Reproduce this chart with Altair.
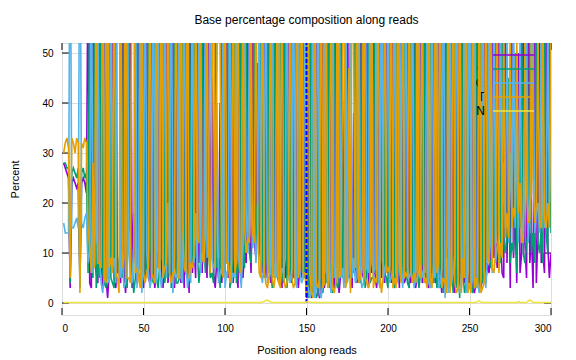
import altair as alt
import pandas as pd

# ---------------- data ----------------
positions = list(range(1, 301))

A = [28,27,26,25,3,24,25,24,23,24,5,24,25,24,22,70,4,3,60,8,
     6,4,78,9,3,85,5,1,7,10,
     82,5,3,9,6,4,78,7,2,11,
     15,84,3,18,9,4,81,7,5,3,
     9,76,5,4,83,6,3,10,7,79,
     6,3,10,80,4,8,5,86,3,9,
     85,7,4,9,3,79,8,2,81,6,
     12,5,70,8,20,6,72,10,5,65,
     7,45,6,3,9,5,40,4,10,6,
     78,5,9,83,4,10,6,3,80,7,
     5,10,8,60,14,6,55,12,9,48,
     12,8,6,78,5,9,82,4,7,6,
     80,6,4,9,3,83,5,7,79,8,
     4,7,84,6,3,8,5,80,9,1,
     2,85,1,3,2,80,3,1,2,78,
     3,6,5,82,4,7,3,79,6,2,
     6,48,4,9,83,5,7,3,38,8,
     4,8,82,6,5,7,80,3,9,6,
     84,6,3,7,81,5,8,4,79,6,
     7,4,83,6,5,8,3,80,6,4,
     5,81,6,4,7,85,3,6,8,79,
     4,6,82,5,3,7,6,80,4,5,
     86,6,2,9,88,4,11,3,84,7,
     2,9,87,5,3,84,4,12,3,6,
     85,3,2,4,80,6,3,5,78,4,
     8,6,10,75,9,12,7,70,14,6,
     5,62,8,30,3,55,9,18,4,50,
     6,10,65,12,5,58,8,14,3,62,
     4,14,60,8,10,6,55,12,5,10]

C = [28,28,27,27,4,26,27,26,25,27,3,26,27,25,26,6,75,8,5,65,
     3,8,5,80,6,4,3,9,82,5,
     4,3,86,6,8,12,5,80,6,3,
     77,5,8,2,5,86,6,4,9,80,
     5,8,82,17,6,4,87,5,3,8,
     9,85,4,7,5,80,3,6,84,4,
     4,5,8,81,10,6,5,87,7,9,
     70,9,10,4,8,75,12,6,22,10,
     5,6,4,82,7,9,3,83,5,8,
     8,80,3,5,9,79,4,8,6,84,
     9,7,62,15,10,8,18,58,12,20,
     10,79,9,5,8,83,6,7,3,85,
     5,7,9,84,6,4,81,3,7,5,
     82,5,6,4,9,79,6,7,5,88,
     1,3,88,2,4,1,2,86,3,2,
     5,4,81,3,8,2,86,5,3,4,
     81,5,7,4,6,42,3,8,6,79,
     7,5,4,83,9,3,6,85,4,5,
     5,80,6,4,7,9,82,6,5,3,
     80,6,5,3,84,7,6,5,4,82,
     7,4,3,80,5,4,86,7,3,6,
     8,81,4,7,6,83,5,4,9,3,
     5,3,90,2,8,85,3,10,6,2,
     88,3,7,1,90,6,2,4,86,3,
     4,2,5,82,7,3,84,4,6,5,
     70,9,7,10,12,68,15,9,8,72,
     12,10,14,45,8,12,10,50,6,20,
     15,60,10,8,12,14,55,10,14,8,
     58,12,10,15,8,62,14,10,60,14]

G = [16,14,14,14,88,15,15,16,17,15,90,16,15,17,18,8,10,82,6,20,
     12,80,9,4,2,6,88,5,4,76,
     7,9,4,79,83,5,10,3,4,81,
     10,6,4,12,80,3,8,85,2,11,
     81,10,6,3,5,85,6,4,83,6,
     3,7,79,5,20,6,88,2,7,5,
     6,83,5,4,80,9,3,6,4,78,
     8,18,7,76,6,10,8,70,9,15,
     82,9,7,8,40,4,6,7,80,3,
     6,7,84,4,6,5,82,10,7,3,
     12,66,18,10,62,20,11,16,8,14,
     70,6,4,9,81,4,5,6,84,5,
     8,5,82,4,7,6,9,85,6,4,
     7,84,5,3,82,6,4,5,79,4,
     3,1,4,90,1,3,84,2,1,4,
     80,7,4,6,2,84,5,7,4,83,
     5,7,3,82,4,6,86,5,9,4,
     5,81,6,3,4,84,7,6,80,8,
     6,7,85,5,3,83,4,7,8,82,
     4,5,7,84,6,4,82,9,3,7,
     79,7,5,6,82,3,5,4,80,8,
     5,7,6,83,4,3,84,6,5,82,
     3,4,7,92,1,9,2,89,4,6,
     10,90,4,2,6,5,91,2,8,89,
     3,5,86,3,4,2,5,83,7,3,
     10,72,12,6,70,8,11,13,65,10,
     28,15,60,12,30,18,62,15,35,12,
     55,18,12,25,60,12,20,22,58,14,
     18,20,14,62,22,15,16,58,20,32]

T = [30,32,33,31,5,33,32,30,33,32,2,32,31,33,32,15,11,6,28,7,
     79,8,8,7,89,5,4,84,7,9,
     6,83,6,5,2,79,7,9,88,5,
     5,4,85,80,6,7,5,3,84,6,
     4,6,7,84,6,5,4,81,7,7,
     82,5,7,8,83,6,4,6,6,82,
     5,5,83,16,7,6,84,5,8,7,
     10,68,13,12,66,9,8,14,64,10,
     6,40,83,7,44,82,51,6,5,83,
     8,8,4,8,81,6,8,79,7,6,
     70,15,10,13,12,64,14,12,68,16,
     6,5,80,7,4,3,5,82,5,3,
     6,81,4,3,82,5,3,4,6,80,
     5,3,4,85,5,7,83,6,6,2,
     90,6,2,1,89,4,3,5,88,3,
     4,78,3,5,80,3,2,4,83,5,
     6,40,84,3,5,47,2,81,47,7,
     83,4,5,7,80,5,4,3,5,79,
     3,5,4,82,6,2,5,80,6,7,
     6,82,3,5,3,79,7,4,85,5,
     6,5,84,7,4,6,4,81,6,5,
     80,4,5,3,85,5,3,8,80,6,
     8,90,3,5,4,2,93,2,5,92,
     4,2,3,91,2,9,5,88,2,4,
     2,86,3,5,3,84,2,3,4,82,
     9,8,68,7,6,10,64,6,12,9,
     55,13,18,13,59,15,19,17,55,18,
     24,12,13,55,23,16,17,54,25,16,
     20,54,16,15,60,17,15,20,15,54]

N = [0.1,0.1,0.1,0.1,0.1,0.1,0.1,0.1,0.1,0.1,0.1,0.1,0.1,0.1,0.1,0.1,0.1,0.1,0.1,0.1,0.1,0.1,0.1,0.1,0.1,0.1,0.1,0.1,0.1,0.1,
     0.1,0.1,0.1,0.1,0.1,0.1,0.1,0.1,0.1,0.1,0.1,0.1,0.1,0.1,0.1,0.1,0.1,0.1,0.1,0.1,0.1,0.1,0.1,0.1,0.1,0.1,0.1,0.1,0.1,0.1,
     0.1,0.1,0.1,0.1,0.1,0.1,0.1,0.1,0.1,0.1,0.1,0.1,0.1,0.1,0.1,0.1,0.1,0.1,0.1,0.1,0.1,0.1,0.1,0.1,0.1,0.1,0.1,0.1,0.1,0.1,
     0.1,0.1,0.1,0.1,0.1,0.1,0.1,0.1,0.1,0.1,0.1,0.1,0.1,0.1,0.1,0.1,0.1,0.1,0.1,0.1,0.1,0.1,0.1,0.1,0.1,0.1,0.1,0.1,0.1,0.1,
     0.1,0.1,0.2,0.3,0.5,0.6,0.4,0.2,0.1,0.1,0.1,0.1,0.1,0.1,0.1,0.1,0.1,0.1,0.1,0.1,0.1,0.1,0.1,0.1,0.1,0.1,0.1,0.1,0.1,0.2,
     0.3,0.2,0.1,0.1,0.1,0.1,0.1,0.1,0.1,0.1,0.1,0.1,0.1,0.1,0.1,0.1,0.1,0.1,0.1,0.1,0.1,0.1,0.1,0.1,0.1,0.1,0.1,0.1,0.1,0.1,
     0.1,0.1,0.1,0.1,0.1,0.1,0.1,0.1,0.1,0.1,0.1,0.1,0.1,0.1,0.1,0.1,0.1,0.1,0.1,0.1,0.1,0.1,0.1,0.1,0.1,0.1,0.1,0.1,0.1,0.1,
     0.1,0.1,0.1,0.1,0.1,0.1,0.1,0.1,0.1,0.1,0.1,0.1,0.1,0.1,0.1,0.1,0.1,0.1,0.1,0.1,0.1,0.1,0.1,0.1,0.1,0.1,0.1,0.1,0.1,0.1,
     0.1,0.1,0.1,0.1,0.1,0.1,0.1,0.1,0.1,0.1,0.1,0.1,0.1,0.1,0.3,0.4,0.2,0.1,0.1,0.1,0.1,0.1,0.1,0.1,0.1,0.1,0.1,0.1,0.1,0.1,
     0.1,0.1,0.1,0.1,0.1,0.1,0.1,0.1,0.1,0.3,0.1,0.1,0.1,0.1,0.1,0.4,0.6,0.4,0.1,0.1,0.1,0.1,0.1,0.1,0.1,0.1,0.1,0.1,0.1,0.1]

series_names = ["A", "C", "G", "T", "N"]
series_values = [A, C, G, T, N]
series_colors = ["#9400d3", "#009e73", "#56b4e9", "#e69f00", "#f0e442"]
boundary_position = [150]
y_ticks = [0, 10, 20, 30, 40, 50]
x_ticks = [0, 50, 100, 150, 200, 250, 300]
chart_title = "Base percentage composition along reads"

for v in series_values:
    assert len(v) == len(positions), len(v)

# ---------------- layout ----------------
W, H = 489, 272
FONT = "Liberation Sans"
LW = 1.6

xscale = alt.Scale(domain=[0, 300], nice=False, zero=False)
yscale = alt.Scale(domain=[-2.4, 52], nice=False, zero=False)

xaxis = alt.Axis(values=x_ticks, title="Position along reads", grid=True, ticks=False,
                 domain=False, labelPadding=8, titlePadding=11, format="d",
                 titleFontWeight="normal")
yaxis = alt.Axis(values=y_ticks, title="Percent", grid=True, ticks=False,
                 domain=False, labelPadding=9, titlePadding=21, format="d",
                 titleFontWeight="normal")


def X(field):
    return alt.X(field, type="quantitative", scale=xscale, axis=xaxis)


def Y(field):
    return alt.Y(field, type="quantitative", scale=yscale, axis=yaxis)


layers = []

# inward tick marks (gnuplot style, mirrored)
ytick_df = pd.DataFrame({"v": y_ticks})
xtick_df = pd.DataFrame({"p": x_ticks})
layers.append(alt.Chart(ytick_df).mark_rule(color="#000", strokeWidth=1).encode(
    y=Y("v"), x=alt.value(0), x2=alt.value(7)))
layers.append(alt.Chart(ytick_df).mark_rule(color="#000", strokeWidth=1).encode(
    y=Y("v"), x=alt.value(W - 7), x2=alt.value(W)))
layers.append(alt.Chart(xtick_df).mark_rule(color="#000", strokeWidth=1).encode(
    x=X("p"), y=alt.value(H - 7), y2=alt.value(H)))
layers.append(alt.Chart(xtick_df).mark_rule(color="#000", strokeWidth=1).encode(
    x=X("p"), y=alt.value(0), y2=alt.value(7)))

legend_rules = []
for i, (name, vals, col) in enumerate(zip(series_names, series_values, series_colors)):
    ly = 12 + 14 * i
    ldf = pd.DataFrame({"name": [name]})
    layers.append(alt.Chart(ldf).mark_text(align="right", baseline="middle", font=FONT,
                                           fontSize=12, color="#000").encode(
        text="name:N", x=alt.value(423), y=alt.value(ly)))
    legend_rules.append(alt.Chart(ldf).mark_rule(color=col, strokeWidth=LW).encode(
        x=alt.value(431), x2=alt.value(472), y=alt.value(ly)))
    df = pd.DataFrame({"pos": positions, "value": vals})
    layers.append(alt.Chart(df).mark_line(color=col, strokeWidth=LW, clip=True).encode(
        x=X("pos"), y=Y("value")))
    if name == "T":
        bdf = pd.DataFrame({"pos": boundary_position, "lo": [0], "hi": [100]})
        layers.append(alt.Chart(bdf).mark_rule(color="#0000ff", strokeWidth=2,
                                               strokeDash=[4, 2], clip=True).encode(
            x=X("pos"), y=Y("lo"), y2="hi"))

layers.extend(legend_rules)

tdf = pd.DataFrame({"t": [chart_title]})
layers.append(alt.Chart(tdf).mark_text(align="center", baseline="middle", font=FONT,
                                       fontSize=12, color="#000").encode(
    text="t:N", x=alt.value(W / 2), y=alt.value(-23)))

chart = alt.layer(*layers).properties(
    width=W, height=H,
    autosize=alt.AutoSizeParams(type="none"),
    padding={"left": 62, "top": 43, "right": 25, "bottom": 45},
).configure_view(
    stroke="#000", strokeWidth=1.5
).configure_axis(
    labelFont=FONT, labelFontSize=12, labelColor="#000",
    titleFont=FONT, titleFontSize=12, titleFontWeight="normal", titleColor="#000",
    gridColor="#b0b0b0", gridDash=[1, 3], gridOpacity=0.8, gridWidth=1
).configure(background="white")

chart.save("out.html", embed_options={"renderer": "svg", "actions": False})
